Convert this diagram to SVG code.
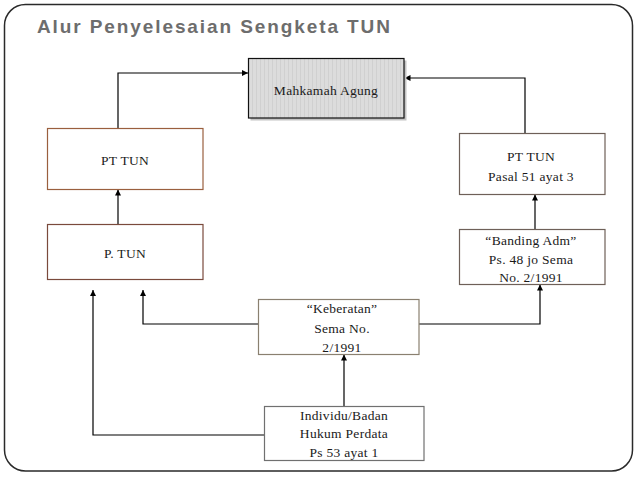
<svg xmlns="http://www.w3.org/2000/svg" width="638" height="479" viewBox="0 0 638 479">
  <style>
    .title { font-family: "Liberation Sans", Arial, sans-serif; font-weight: bold; font-size: 19px; letter-spacing: 1.9px; fill: #6d6d6d; }
    .lbl { font-family: "Liberation Serif", "Times New Roman", serif; font-size: 13.5px; letter-spacing: 0.3px; fill: #1a1a1a; text-anchor: middle; }
    .box { fill: #ffffff; stroke-width: 1.2; }
    .conn { fill: none; stroke: #000; stroke-width: 1.2; marker-end: url(#arr); }
  </style>
  <defs>
    <marker id="arr" viewBox="0 0 10 10" refX="10" refY="5" markerWidth="6" markerHeight="6" markerUnits="userSpaceOnUse" orient="auto">
      <path d="M0,0 L10,5 L0,10 z" fill="#000"/>
    </marker>
    <pattern id="stripes" width="4" height="10" patternUnits="userSpaceOnUse">
      <rect width="4" height="10" fill="#dcdcdc"/>
      <rect x="0" width="1" height="10" fill="#d0d0d0"/>
    </pattern>
  </defs>
  <rect width="638" height="479" fill="#ffffff"/>
  <rect x="4.5" y="4.5" width="628" height="466.5" rx="21" ry="21" fill="#ffffff" stroke="#2a2a2a" stroke-width="1.5"/>
  <text class="title" x="37" y="33">Alur Penyelesaian Sengketa TUN</text>

  <g id="connectors">
    <path class="conn" d="M118 128 V73 H248"/>
    <path class="conn" d="M525 133 V78 H404.5"/>
    <path class="conn" d="M118 224 V189.5"/>
    <path class="conn" d="M535 229 V194.5"/>
    <path class="conn" d="M258 324 H143 V290"/>
    <path class="conn" d="M419 324 H540 V284.5"/>
    <path class="conn" d="M344 406 V354.5"/>
    <path class="conn" d="M264 435 H93 V290"/>
  </g>

  <g id="mahkamah-agung">
    <rect x="250.5" y="60.5" width="156" height="60" fill="#c4c4c4"/>
    <rect x="248.5" y="58.5" width="155.5" height="59.5" fill="url(#stripes)" stroke="#111" stroke-width="1.2"/>
    <text class="lbl" x="326" y="95">Mahkamah Agung</text>
  </g>

  <g id="pt-tun-left">
    <rect class="box" x="47.5" y="128.5" width="155.5" height="61" stroke="#9a5f3e"/>
    <text class="lbl" x="125" y="165">PT TUN</text>
  </g>

  <g id="p-tun">
    <rect class="box" x="47.5" y="224.5" width="155.5" height="55" stroke="#7a4a3c"/>
    <text class="lbl" x="125" y="258">P. TUN</text>
  </g>

  <g id="pt-tun-right">
    <rect class="box" x="459.5" y="133.5" width="145.5" height="61" stroke="#6e6058"/>
    <text class="lbl" x="531" y="161">PT TUN</text>
    <text class="lbl" x="531" y="181">Pasal 51 ayat 3</text>
  </g>

  <g id="banding-adm">
    <rect class="box" x="459.5" y="229.5" width="145.5" height="55" stroke="#6e6058"/>
    <text class="lbl" x="531" y="245">“Banding Adm”</text>
    <text class="lbl" x="531" y="264">Ps. 48 jo Sema</text>
    <text class="lbl" x="531" y="282">No. 2/1991</text>
  </g>

  <g id="keberatan">
    <rect class="box" x="258.5" y="299.5" width="160.5" height="55" stroke="#8a8070"/>
    <text class="lbl" x="342" y="313">“Keberatan”</text>
    <text class="lbl" x="342" y="333">Sema No.</text>
    <text class="lbl" x="342" y="352">2/1991</text>
  </g>

  <g id="individu">
    <rect class="box" x="264.5" y="406.5" width="159.5" height="54" stroke="#707070"/>
    <text class="lbl" x="344" y="420">Individu/Badan</text>
    <text class="lbl" x="344" y="438">Hukum Perdata</text>
    <text class="lbl" x="344" y="457">Ps 53 ayat 1</text>
  </g>
</svg>
